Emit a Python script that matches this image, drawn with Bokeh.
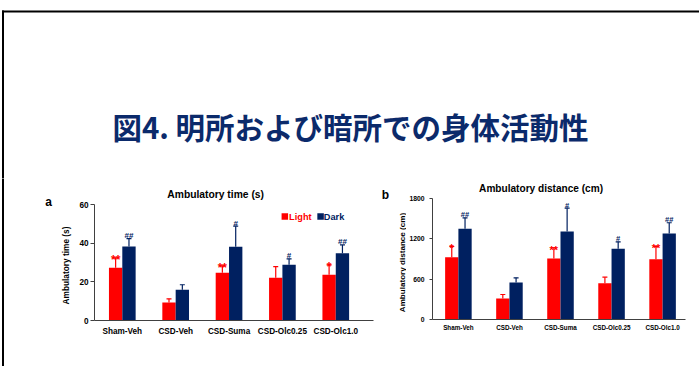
import numpy as np
from bokeh.plotting import figure
from bokeh.models import Range1d, FixedTicker, ColumnDataSource, Whisker, TeeHead
from bokeh.layouts import row, column
from bokeh.embed import file_html
from bokeh.resources import INLINE
from bokeh.core.properties import value

# ---------------- data ----------------
groups = ["Sham-Veh", "CSD-Veh", "CSD-Suma", "CSD-Olc0.25", "CSD-Olc1.0"]
time_light = [27.3, 9.3, 24.7, 22.1, 23.6]
time_light_err = [5.1, 1.9, 3.6, 5.8, 5.2]
time_dark = [38.3, 15.9, 38.1, 28.8, 34.8]
time_dark_err = [4.0, 2.6, 10.7, 3.1, 4.3]
dist_light = [927, 312, 907, 540, 897]
dist_light_err = [159, 60, 160, 89, 189]
dist_dark = [1349, 550, 1309, 1052, 1279]
dist_dark_err = [164, 70, 347, 104, 160]
time_light_sig = ["**", "", "**", "", "*"]
time_dark_sig = ["##", "", "#", "#", "##"]
dist_light_sig = ["*", "", "**", "", "**"]
dist_dark_sig = ["##", "", "#", "#", "##"]
time_ticks = [0, 20, 40, 60]
dist_ticks = [0, 600, 1200, 1800]
series_names = ["Light", "Dark"]
main_title = "図4. 明所および暗所での身体活動性"
title_a = "Ambulatory time (s)"
title_b = "Ambulatory distance (cm)"
ylabel_a = "Ambulatory time (s)"
ylabel_b = "Ambulatory distance (cm)"

RED = "#ff0000"
NAVY = "#002060"
TITLE_NAVY = "#0b2a6b"
AXIS = "#404040"
FONT = value("Liberation Sans")


def blank(w, h, xr, yr):
    f = figure(width=w, height=h, x_range=xr, y_range=yr, toolbar_location=None,
               output_backend="svg", x_axis_type=None, y_axis_type=None, min_border=0)
    f.outline_line_color = None
    f.grid.visible = False
    f.frame_align = False
    return f


def txt(p, x, y, text, size, color="black", angle=0.0, align="center", baseline="middle",
        font=FONT):
    p.text(x=[x], y=[y], text=[text], text_font=font, text_font_style="bold",
           text_font_size=size, text_color=color, angle=angle,
           text_align=align, text_baseline=baseline)


# ---------------- header (frame + main title), page coords ----------------
head = blank(699, 178, Range1d(0, 699), Range1d(178, 0))
head.segment(x0=[1.5], y0=[11], x1=[699], y1=[11], line_width=2, line_color="black")
head.segment(x0=[2.5], y0=[10], x1=[2.5], y1=[180], line_width=2, line_color="black")
txt(head, 350, 125, main_title, "29.5px", color=TITLE_NAVY, font=value("Noto Sans CJK JP"))

# ---------------- left strips (page coords) ----------------
strip_a = blank(76, 188, Range1d(0, 76), Range1d(366, 178))
strip_a.segment(x0=[2.5], y0=[176], x1=[2.5], y1=[368], line_width=2, line_color="black")
txt(strip_a, 48, 201.5, "a", "12px")
txt(strip_a, 65, 265, ylabel_a, "8.3px", angle=np.pi / 2)

strip_b = blank(31, 188, Range1d(375, 406), Range1d(366, 178))
txt(strip_b, 385, 194.5, "b", "12px")
txt(strip_b, 402, 262, ylabel_b, "8.1px", angle=np.pi / 2)


def panel(width, borders, xr, yr, ymax, ticks, light, light_err, dark, dark_err, lsig, dsig,
          dodge_w, tick_fs, tick_out, ystand, xlab_fs, xstand, ast_fs, hash_fs):
    bl, br, bt, bb = borders
    p = figure(width=width, height=188, x_range=Range1d(*xr), y_range=Range1d(*yr),
               toolbar_location=None, output_backend="svg",
               min_border_left=bl, min_border_right=br, min_border_top=bt, min_border_bottom=bb)
    p.frame_align = False
    p.outline_line_color = None
    p.grid.visible = False
    p.background_fill_color = "white"
    p.border_fill_color = "white"

    idx = list(range(len(groups)))
    src = ColumnDataSource(dict(
        xl=[i - dodge_w / 2 for i in idx], xd=[i + dodge_w / 2 for i in idx],
        light=light, dark=dark,
        lup=[a + b for a, b in zip(light, light_err)],
        dup=[a + b for a, b in zip(dark, dark_err)],
        lsig=lsig, dsig=dsig))

    p.vbar(x="xl", top="light", width=dodge_w, fill_color=RED, line_color=None, source=src)
    p.vbar(x="xd", top="dark", width=dodge_w, fill_color=NAVY, line_color=None, source=src)

    for xcol, top, up, col in (("xl", "light", "lup", RED), ("xd", "dark", "dup", NAVY)):
        w = Whisker(base=xcol, lower=top, upper=up, source=src, dimension="height",
                    line_color=col, line_width=1.2,
                    upper_head=TeeHead(size=5, line_color=col, line_width=1.2), lower_head=None)
        p.add_layout(w)

    p.text(x="xl", y="lup", text="lsig", source=src, text_color=RED, text_font=FONT,
           text_font_style="bold", text_font_size=ast_fs, text_align="center",
           text_baseline="alphabetic", y_offset=2)
    p.text(x="xd", y="dup", text="dsig", source=src, text_color=NAVY, text_font=FONT,
           text_font_style="bold", text_font_size=hash_fs, text_align="center",
           text_baseline="alphabetic", y_offset=-3)

    xa = p.xaxis[0]
    xa.ticker = FixedTicker(ticks=idx)
    xa.major_label_overrides = {i: g for i, g in enumerate(groups)}
    xa.major_tick_out = 0
    xa.major_tick_in = 0
    xa.major_tick_line_color = None
    xa.minor_tick_line_color = None
    xa.axis_line_color = AXIS
    xa.major_label_text_font = "Liberation Sans"
    xa.major_label_text_font_style = "bold"
    xa.major_label_text_font_size = xlab_fs
    xa.major_label_text_color = "black"
    xa.major_label_standoff = xstand

    ya = p.yaxis[0]
    ya.ticker = FixedTicker(ticks=ticks)
    ya.bounds = (0, ymax)
    ya.major_tick_out = tick_out
    ya.major_tick_in = 0
    ya.major_tick_line_color = AXIS
    ya.minor_tick_line_color = None
    ya.axis_line_color = AXIS
    ya.major_label_text_font = "Liberation Sans"
    ya.major_label_text_font_style = "bold"
    ya.major_label_text_font_size = tick_fs
    ya.major_label_text_color = "black"
    ya.major_label_standoff = ystand
    return p


# ---------- panel a (page x 76..375) ----------
A_X0, A_DX, A_Y0, A_DY = 120.0, 53.75, 320.0, 116.0 / 60
ax = lambda px: (px - A_X0) / A_DX
ay = lambda py: (A_Y0 - py) / A_DY
pa = panel(299, (16, 2, 0, 46), (ax(92), ax(373)), (0, ay(178)), 60, time_ticks,
           time_light, time_light_err, time_dark, time_dark_err, time_light_sig, time_dark_sig,
           0.25, "8.2px", 4, 2, "8.2px", 6, "12px", "8px")
txt(pa, ax(214), ay(194), title_a, "10.3px")
pa.scatter(x=[ax(283.7), ax(319.7)], y=[ay(216), ay(216)], marker="square", size=6.5,
           fill_color=[RED, NAVY], line_color=None)
pa.text(x=[ax(288), ax(323)], y=[ay(216.5), ay(216.5)], text=series_names,
        text_color=[RED, NAVY], text_font=FONT, text_font_style="bold", text_font_size="9.2px",
        text_align="left", text_baseline="middle")

# ---------- panel b (page x 406..699) ----------
B_X0, B_DX, B_Y0, B_DY = 457.0, 51.25, 319.0, 121.0 / 1800
bx = lambda px: (px - B_X0) / B_DX
by = lambda py: (B_Y0 - py) / B_DY
pb = panel(293, (25, 14, 0, 47), (bx(431), bx(685)), (0, by(178)), 1800, dist_ticks,
           dist_light, dist_light_err, dist_dark, dist_dark_err, dist_light_sig, dist_dark_sig,
           0.26, "6.8px", 3, 5, "6.3px", 4, "11px", "7.5px")
txt(pb, bx(540), by(187.5), title_b, "10.1px")

layout = column(head, row(strip_a, pa, strip_b, pb))
open("out.html", "w").write(file_html(layout, INLINE))
